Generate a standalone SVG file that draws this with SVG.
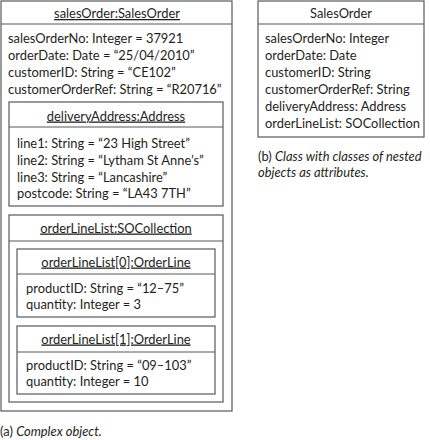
<svg xmlns="http://www.w3.org/2000/svg" width="430" height="440" viewBox="0 0 430 440">
<style>
.box{fill:#fff;stroke:#58595b;stroke-width:1.2}
.sep{stroke:#58595b;stroke-width:1.2}
text{font-family:Lato,"Liberation Sans",sans-serif;font-size:12.9px;fill:#231f20}
.t{text-anchor:middle;text-decoration:underline}
.c{text-anchor:middle}
.i{font-style:italic}
</style>
<rect width="430" height="440" fill="#fff"/>
<g id="salesOrder">
<rect class="box" x="1" y="1" width="231" height="410"/>
<line class="sep" x1="1" y1="24" x2="232" y2="24"/>
<text class="t" x="117" y="18">salesOrder:SalesOrder</text>
<text x="8" y="42.5">salesOrderNo: Integer = 37921</text>
<text x="8" y="59.5">orderDate: Date = “25/04/2010”</text>
<text x="8" y="76.5">customerID: String = “CE102”</text>
<text x="8" y="93.5">customerOrderRef: String = “R20716”</text>
</g>
<g id="deliveryAddress">
<rect class="box" x="9" y="102" width="214" height="104"/>
<line class="sep" x1="9" y1="127" x2="223" y2="127"/>
<text class="t" x="116" y="120.5">deliveryAddress:Address</text>
<text x="17" y="147.5">line1: String = “23 High Street”</text>
<text x="17" y="164.5">line2: String = “Lytham St Anne’s”</text>
<text x="17" y="181.5">line3: String = “Lancashire”</text>
<text x="17" y="198">postcode: String = “LA43 7TH”</text>
</g>
<g id="orderLineList">
<rect class="box" x="9" y="215" width="214" height="187"/>
<line class="sep" x1="9" y1="241" x2="223" y2="241"/>
<text class="t" x="116" y="232.5">orderLineList:SOCollection</text>
</g>
<g id="orderLine0">
<rect class="box" x="17" y="249" width="198" height="68"/>
<line class="sep" x1="17" y1="274" x2="215" y2="274"/>
<text class="t" x="116" y="266.5">orderLineList[0]:OrderLine</text>
<text x="26" y="292.5">productID: String = “12–75”</text>
<text x="26" y="308.5">quantity: Integer = 3</text>
</g>
<g id="orderLine1">
<rect class="box" x="17" y="326" width="198" height="68"/>
<line class="sep" x1="17" y1="352" x2="215" y2="352"/>
<text class="t" x="116" y="343.5">orderLineList[1]:OrderLine</text>
<text x="26" y="369.5">productID: String = “09–103”</text>
<text x="26" y="386">quantity: Integer = 10</text>
</g>
<g id="SalesOrderClass">
<rect class="box" x="258" y="1" width="166" height="136"/>
<line class="sep" x1="258" y1="24" x2="424" y2="24"/>
<text class="c" x="341" y="18">SalesOrder</text>
<text x="265" y="42.5">salesOrderNo: Integer</text>
<text x="265" y="59.5">orderDate: Date</text>
<text x="265" y="76.5">customerID: String</text>
<text x="265" y="93.5">customerOrderRef: String</text>
<text x="265" y="110.5">deliveryAddress: Address</text>
<text x="265" y="127.5">orderLineList: SOCollection</text>
</g>
<g id="connectors"></g>
<g id="captions">
<text x="0" y="436">(a) <tspan class="i">Complex object.</tspan></text>
<text x="258" y="161">(b) <tspan class="i">Class with classes of nested</tspan></text>
<text x="258" y="177"><tspan class="i">objects as attributes.</tspan></text>
</g>
</svg>
